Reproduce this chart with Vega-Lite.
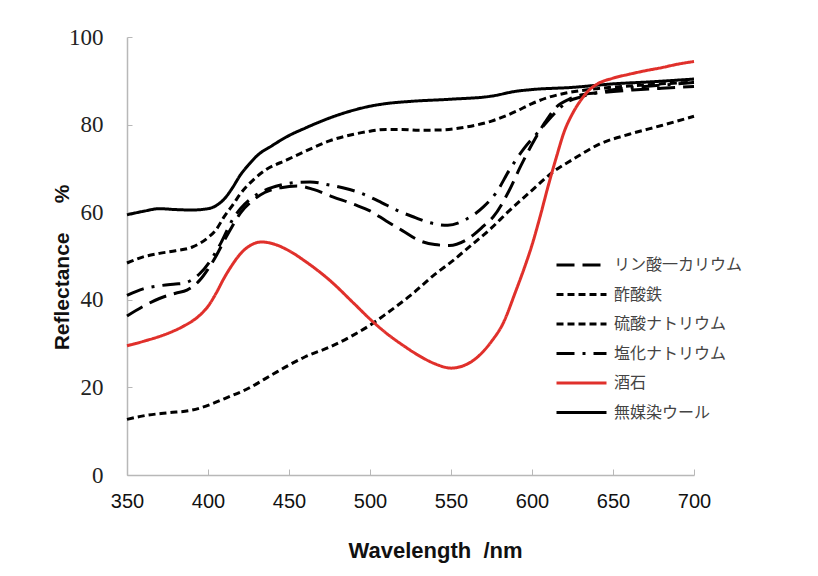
{
  "$schema": "https://vega.github.io/schema/vega-lite/v6.json",
  "width": 567,
  "height": 438,
  "autosize": {"type": "none"},
  "padding": {"left": 127, "top": 37, "right": 124, "bottom": 101},
  "background": "white",
  "config": {"view": {"stroke": null}},
  "datasets": {
    "d": [
      {"s":"無媒染ウール","x":350,"y":59.4},{"s":"無媒染ウール","x":360,"y":60.2},{"s":"無媒染ウール","x":370,"y":60.8},{"s":"無媒染ウール","x":380,"y":60.6},{"s":"無媒染ウール","x":390,"y":60.5},{"s":"無媒染ウール","x":400,"y":60.8},{"s":"無媒染ウール","x":405,"y":61.5},{"s":"無媒染ウール","x":410,"y":63},{"s":"無媒染ウール","x":415,"y":65.5},{"s":"無媒染ウール","x":420,"y":68.5},{"s":"無媒染ウール","x":425,"y":70.8},{"s":"無媒染ウール","x":430,"y":72.8},{"s":"無媒染ウール","x":440,"y":75.3},{"s":"無媒染ウール","x":450,"y":77.5},{"s":"無媒染ウール","x":460,"y":79.2},{"s":"無媒染ウール","x":475,"y":81.5},{"s":"無媒染ウール","x":490,"y":83.3},{"s":"無媒染ウール","x":500,"y":84.2},{"s":"無媒染ウール","x":510,"y":84.8},{"s":"無媒染ウール","x":525,"y":85.3},{"s":"無媒染ウール","x":550,"y":85.8},{"s":"無媒染ウール","x":575,"y":86.5},{"s":"無媒染ウール","x":590,"y":87.6},{"s":"無媒染ウール","x":600,"y":88},{"s":"無媒染ウール","x":625,"y":88.5},{"s":"無媒染ウール","x":650,"y":89.3},{"s":"無媒染ウール","x":675,"y":89.8},{"s":"無媒染ウール","x":700,"y":90.4},

      {"s":"硫酸ナトリウム","x":350,"y":48.4},{"s":"硫酸ナトリウム","x":360,"y":49.8},{"s":"硫酸ナトリウム","x":370,"y":50.6},{"s":"硫酸ナトリウム","x":380,"y":51.2},{"s":"硫酸ナトリウム","x":390,"y":52},{"s":"硫酸ナトリウム","x":400,"y":54.2},{"s":"硫酸ナトリウム","x":405,"y":56},{"s":"硫酸ナトリウム","x":410,"y":59},{"s":"硫酸ナトリウム","x":415,"y":61.5},{"s":"硫酸ナトリウム","x":420,"y":64.2},{"s":"硫酸ナトリウム","x":428,"y":67.4},{"s":"硫酸ナトリウム","x":435,"y":69.5},{"s":"硫酸ナトリウム","x":449,"y":72},{"s":"硫酸ナトリウム","x":460,"y":73.9},{"s":"硫酸ナトリウム","x":475,"y":76.3},{"s":"硫酸ナトリウム","x":490,"y":77.8},{"s":"硫酸ナトリウム","x":500,"y":78.5},{"s":"硫酸ナトリウム","x":510,"y":78.9},{"s":"硫酸ナトリウム","x":520,"y":78.9},{"s":"硫酸ナトリウム","x":530,"y":78.7},{"s":"硫酸ナトリウム","x":545,"y":78.8},{"s":"硫酸ナトリウム","x":560,"y":79.5},{"s":"硫酸ナトリウム","x":575,"y":80.8},{"s":"硫酸ナトリウム","x":590,"y":83},{"s":"硫酸ナトリウム","x":600,"y":84.8},{"s":"硫酸ナトリウム","x":610,"y":86.2},{"s":"硫酸ナトリウム","x":621,"y":87.2},{"s":"硫酸ナトリウム","x":640,"y":88.2},{"s":"硫酸ナトリウム","x":660,"y":88.8},{"s":"硫酸ナトリウム","x":680,"y":89.3},{"s":"硫酸ナトリウム","x":700,"y":89.7},

      {"s":"リン酸一カリウム","x":350,"y":36.3},{"s":"リン酸一カリウム","x":360,"y":38.5},{"s":"リン酸一カリウム","x":370,"y":40.3},{"s":"リン酸一カリウム","x":380,"y":41.5},{"s":"リン酸一カリウム","x":387,"y":42.2},{"s":"リン酸一カリウム","x":395,"y":44.5},{"s":"リン酸一カリウム","x":400,"y":47},{"s":"リン酸一カリウム","x":405,"y":50},{"s":"リン酸一カリウム","x":410,"y":53.5},{"s":"リン酸一カリウム","x":415,"y":56.8},{"s":"リン酸一カリウム","x":420,"y":59.8},{"s":"リン酸一カリウム","x":428,"y":62.8},{"s":"リン酸一カリウム","x":435,"y":64.5},{"s":"リン酸一カリウム","x":445,"y":65.6},{"s":"リン酸一カリウム","x":455,"y":66},{"s":"リン酸一カリウム","x":465,"y":65.2},{"s":"リン酸一カリウム","x":477,"y":63.5},{"s":"リン酸一カリウム","x":490,"y":61.8},{"s":"リン酸一カリウム","x":500,"y":60.3},{"s":"リン酸一カリウム","x":510,"y":58},{"s":"リン酸一カリウム","x":520,"y":55.8},{"s":"リン酸一カリウム","x":530,"y":53.6},{"s":"リン酸一カリウム","x":540,"y":52.6},{"s":"リン酸一カリウム","x":549,"y":52.4},{"s":"リン酸一カリウム","x":560,"y":53.8},{"s":"リン酸一カリウム","x":570,"y":56.8},{"s":"リン酸一カリウム","x":576,"y":58.9},{"s":"リン酸一カリウム","x":586,"y":65},{"s":"リン酸一カリウム","x":593,"y":70.5},{"s":"リン酸一カリウム","x":600,"y":75.5},{"s":"リン酸一カリウム","x":608,"y":80.5},{"s":"リン酸一カリウム","x":615,"y":84},{"s":"リン酸一カリウム","x":623,"y":85.8},{"s":"リン酸一カリウム","x":631,"y":86.8},{"s":"リン酸一カリウム","x":645,"y":87.4},{"s":"リン酸一カリウム","x":662,"y":87.9},{"s":"リン酸一カリウム","x":680,"y":88.3},{"s":"リン酸一カリウム","x":700,"y":88.7},

      {"s":"塩化ナトリウム","x":350,"y":41},{"s":"塩化ナトリウム","x":360,"y":42.5},{"s":"塩化ナトリウム","x":370,"y":43.2},{"s":"塩化ナトリウム","x":380,"y":43.6},{"s":"塩化ナトリウム","x":385,"y":43.8},{"s":"塩化ナトリウム","x":395,"y":46},{"s":"塩化ナトリウム","x":403,"y":49.8},{"s":"塩化ナトリウム","x":408,"y":53},{"s":"塩化ナトリウム","x":415,"y":58.2},{"s":"塩化ナトリウム","x":420,"y":60.8},{"s":"塩化ナトリウム","x":428,"y":63.5},{"s":"塩化ナトリウム","x":435,"y":65},{"s":"塩化ナトリウム","x":445,"y":66.2},{"s":"塩化ナトリウム","x":455,"y":66.8},{"s":"塩化ナトリウム","x":463,"y":66.9},{"s":"塩化ナトリウム","x":475,"y":66.2},{"s":"塩化ナトリウム","x":485,"y":65.4},{"s":"塩化ナトリウム","x":494,"y":64.4},{"s":"塩化ナトリウム","x":505,"y":62.6},{"s":"塩化ナトリウム","x":518,"y":60.2},{"s":"塩化ナトリウム","x":527,"y":58.9},{"s":"塩化ナトリウム","x":537,"y":57.6},{"s":"塩化ナトリウム","x":548,"y":57},{"s":"塩化ナトリウム","x":560,"y":58.5},{"s":"塩化ナトリウム","x":570,"y":61.2},{"s":"塩化ナトリウム","x":578,"y":64.5},{"s":"塩化ナトリウム","x":586,"y":69.6},{"s":"塩化ナトリウム","x":595,"y":74.5},{"s":"塩化ナトリウム","x":605,"y":78.8},{"s":"塩化ナトリウム","x":613,"y":82.2},{"s":"塩化ナトリウム","x":621,"y":85},{"s":"塩化ナトリウム","x":631,"y":86.4},{"s":"塩化ナトリウム","x":642,"y":87.4},{"s":"塩化ナトリウム","x":660,"y":88.4},{"s":"塩化ナトリウム","x":680,"y":89},{"s":"塩化ナトリウム","x":700,"y":89.6},

      {"s":"酢酸鉄","x":350,"y":12.7},{"s":"酢酸鉄","x":360,"y":13.5},{"s":"酢酸鉄","x":375,"y":14.2},{"s":"酢酸鉄","x":390,"y":14.8},{"s":"酢酸鉄","x":400,"y":15.9},{"s":"酢酸鉄","x":410,"y":17.4},{"s":"酢酸鉄","x":425,"y":19.8},{"s":"酢酸鉄","x":440,"y":23},{"s":"酢酸鉄","x":450,"y":25.1},{"s":"酢酸鉄","x":460,"y":27},{"s":"酢酸鉄","x":475,"y":29.2},{"s":"酢酸鉄","x":490,"y":32},{"s":"酢酸鉄","x":500,"y":34.2},{"s":"酢酸鉄","x":510,"y":36.8},{"s":"酢酸鉄","x":525,"y":41},{"s":"酢酸鉄","x":540,"y":45.8},{"s":"酢酸鉄","x":550,"y":48.6},{"s":"酢酸鉄","x":562,"y":52.3},{"s":"酢酸鉄","x":575,"y":56.4},{"s":"酢酸鉄","x":585,"y":60},{"s":"酢酸鉄","x":600,"y":65},{"s":"酢酸鉄","x":613,"y":69.2},{"s":"酢酸鉄","x":625,"y":72},{"s":"酢酸鉄","x":642,"y":75.6},{"s":"酢酸鉄","x":660,"y":77.8},{"s":"酢酸鉄","x":680,"y":79.8},{"s":"酢酸鉄","x":700,"y":81.9},

      {"s":"酒石","x":350,"y":29.5},{"s":"酒石","x":360,"y":30.5},{"s":"酒石","x":375,"y":32.3},{"s":"酒石","x":385,"y":34},{"s":"酒石","x":395,"y":36.5},{"s":"酒石","x":400,"y":38.5},{"s":"酒石","x":405,"y":41.5},{"s":"酒石","x":410,"y":45},{"s":"酒石","x":415,"y":48},{"s":"酒石","x":420,"y":50.5},{"s":"酒石","x":427,"y":52.6},{"s":"酒石","x":433,"y":53.2},{"s":"酒石","x":440,"y":52.8},{"s":"酒石","x":450,"y":51.2},{"s":"酒石","x":460,"y":48.8},{"s":"酒石","x":475,"y":44.5},{"s":"酒石","x":490,"y":39.2},{"s":"酒石","x":500,"y":35.6},{"s":"酒石","x":510,"y":32.4},{"s":"酒石","x":520,"y":29.7},{"s":"酒石","x":530,"y":27.3},{"s":"酒石","x":540,"y":25.4},{"s":"酒石","x":550,"y":24.4},{"s":"酒石","x":558,"y":25},{"s":"酒石","x":565,"y":26.5},{"s":"酒石","x":575,"y":30.5},{"s":"酒石","x":582,"y":34.5},{"s":"酒石","x":590,"y":42},{"s":"酒石","x":595,"y":47},{"s":"酒石","x":600,"y":52.5},{"s":"酒石","x":605,"y":59},{"s":"酒石","x":610,"y":66},{"s":"酒石","x":615,"y":72.5},{"s":"酒石","x":620,"y":78.5},{"s":"酒石","x":625,"y":82.5},{"s":"酒石","x":630,"y":85.5},{"s":"酒石","x":635,"y":87.8},{"s":"酒石","x":640,"y":89.2},{"s":"酒石","x":650,"y":90.6},{"s":"酒石","x":660,"y":91.5},{"s":"酒石","x":670,"y":92.3},{"s":"酒石","x":680,"y":93},{"s":"酒石","x":690,"y":93.8},{"s":"酒石","x":700,"y":94.4}
    ]
  },
  "data": {"name": "d"},
  "mark": {"type": "line", "strokeWidth": 3, "interpolate": "monotone"},
  "encoding": {
    "x": {
      "field": "x", "type": "quantitative",
      "scale": {"domain": [350, 700], "nice": false, "zero": false},
      "axis": {
        "values": [350, 400, 450, 500, 550, 600, 650, 700],
        "grid": false, "domainColor": "#b8b8b8", "domainWidth": 1.5,
        "tickColor": "#b8b8b8", "tickSize": -6, "tickWidth": 1,
        "labelFont": "Liberation Sans", "labelFontSize": 20, "labelColor": "#111",
        "labelPadding": 32, "labelBaseline": "middle", "labelFlush": false,
        "title": "Wavelength\u00a0\u00a0/nm", "titleFont": "Liberation Sans", "titleFontSize": 22,
        "titleFontWeight": "bold", "titleColor": "#111",
        "titleX": 308, "titleY": 75, "titleBaseline": "middle", "titleAlign": "center"
      }
    },
    "y": {
      "field": "y", "type": "quantitative",
      "scale": {"domain": [0, 100], "nice": false},
      "axis": {
        "values": [0, 20, 40, 60, 80, 100],
        "grid": false, "domainColor": "#b8b8b8", "domainWidth": 1.5,
        "tickColor": "#b8b8b8", "tickSize": -5, "tickWidth": 1,
        "labelFont": "Liberation Serif", "labelFontSize": 23, "labelColor": "#222",
        "labelPadding": 29, "labelFlush": false,
        "title": "Reflectance\u00a0\u00a0\u00a0\u00a0\u00a0%", "titleFont": "Liberation Sans", "titleFontSize": 21,
        "titleFontWeight": "bold", "titleColor": "#111", "titleAngle": 270,
        "titleX": -65, "titleY": 230, "titleBaseline": "middle", "titleAlign": "center"
      }
    },
    "color": {
      "field": "s", "type": "nominal",
      "scale": {
        "domain": ["リン酸一カリウム", "酢酸鉄", "硫酸ナトリウム", "塩化ナトリウム", "酒石", "無媒染ウール"],
        "range": ["#000000", "#000000", "#000000", "#000000", "#e0302b", "#000000"]
      },
      "legend": {
        "title": null, "orient": "none", "legendX": 428, "legendY": 218,
        "symbolType": "stroke", "symbolSize": 2500, "symbolStrokeWidth": 3,
        "labelFont": "Noto Sans CJK JP", "labelFontSize": 16, "labelColor": "#444",
        "labelOffset": 6, "rowPadding": 9.5, "clipHeight": 20, "labelLimit": 300
      }
    },
    "strokeDash": {
      "field": "s", "type": "nominal",
      "scale": {
        "domain": ["リン酸一カリウム", "酢酸鉄", "硫酸ナトリウム", "塩化ナトリウム", "酒石", "無媒染ウール"],
        "range": [[18, 8], [7, 4], [7, 4], [18, 8, 3, 8], [1, 0], [1, 0]]
      },
      "legend": {
        "title": null, "orient": "none", "legendX": 428, "legendY": 218,
        "symbolType": "stroke", "symbolSize": 2500, "symbolStrokeWidth": 3,
        "labelFont": "Noto Sans CJK JP", "labelFontSize": 16, "labelColor": "#444",
        "labelOffset": 6, "rowPadding": 9.5, "clipHeight": 20, "labelLimit": 300
      }
    }
  }
}
